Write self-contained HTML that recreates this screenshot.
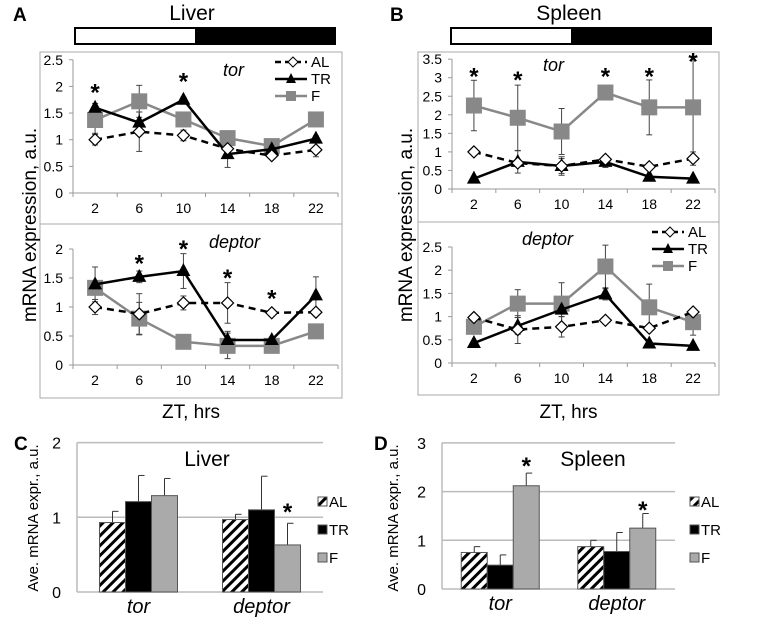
<!DOCTYPE html>
<html><head><meta charset="utf-8"><style>
body{margin:0;background:#fff;}
svg{display:block;font-family:"Liberation Sans",Arial,sans-serif;}
</style></head><body>
<svg id="fig" width="770" height="618" viewBox="0 0 770 618" xmlns="http://www.w3.org/2000/svg">
<defs>
<pattern id="hatch" patternUnits="userSpaceOnUse" width="7" height="7" patternTransform="rotate(45)">
<rect width="7" height="7" fill="#fff"/><rect width="3" height="7" fill="#000"/></pattern>
</defs>
<g id="root"></g>
</svg>
<script>
const zt = ["2","6","10","14","18","22"];
const groups = ["AL","TR","F"];
// Panel A tor
const aTorAL=[1.0,1.15,1.08,0.83,0.70,0.81], aTorALe=[0.1,0.37,0.1,0.05,0.05,0.13];
const aTorTR=[1.6,1.32,1.75,0.73,0.82,1.02], aTorTRe=[0.08,0.2,0.05,0.25,0.05,0.05];
const aTorF=[1.37,1.72,1.38,1.03,0.88,1.38], aTorFe=[0.25,0.3,0.1,0.05,0.05,0.05];
const aTorStars=[2.0,null,2.2,null,null,null];
const aTorTicks=[0,0.5,1,1.5,2,2.5];
// Panel A deptor
const aDepAL=[1.0,0.88,1.07,1.07,0.9,0.91], aDepALe=[0.13,0.35,0.12,0.35,0.05,0.05];
const aDepTR=[1.39,1.52,1.62,0.43,0.43,1.2], aDepTRe=[0.3,0.1,0.3,0.15,0.05,0.32];
const aDepF=[1.33,0.8,0.4,0.33,0.33,0.58], aDepFe=[0.05,0.28,0.03,0.22,0.03,0.03];
const aDepStars=[null,1.85,2.1,1.6,1.25,null];
const aDepTicks=[0,0.5,1,1.5,2];
// Panel B tor
const bTorAL=[1.0,0.7,0.62,0.8,0.6,0.82], bTorALe=[0.03,0.1,0.2,0.1,0.05,0.18];
const bTorTR=[0.28,0.73,0.62,0.73,0.33,0.28], bTorTRe=[0.03,0.3,0.25,0.15,0.03,0.03];
const bTorF=[2.25,1.92,1.55,2.6,2.2,2.2], bTorFe=[0.68,0.88,0.62,0.03,0.74,1.38];
const bTorStars=[3.2,3.1,null,3.2,3.2,3.6];
const bTorTicks=[0,0.5,1,1.5,2,2.5,3,3.5];
// Panel B deptor
const bDepAL=[0.98,0.72,0.78,0.92,0.75,1.1], bDepALe=[0.03,0.3,0.22,0.03,0.05,0.05];
const bDepTR=[0.43,0.8,1.15,1.48,0.42,0.37], bDepTRe=[0.03,0.18,0.15,0.12,0.03,0.03];
const bDepF=[0.78,1.28,1.28,2.08,1.2,0.88], bDepFe=[0.03,0.3,0.45,0.46,0.5,0.28];
const bDepTicks=[0,0.5,1,1.5,2,2.5];
// Panels C/D bars
const genes=["tor","deptor"];
const cAL=[0.93,0.97], cALe=[1.08,1.04];
const cTR=[1.21,1.10], cTRe=[1.56,1.55];
const cF=[1.29,0.63], cFe=[1.52,0.92];
const cStars=[[null,null,null],[null,null,1.15]];
const cTicks=[0,1,2];
const dAL=[0.75,0.87], dALe=[0.87,1.00];
const dTR=[0.49,0.77], dTRe=[0.70,1.16];
const dF=[2.12,1.25], dFe=[2.38,1.55];
const dStars=[[null,null,2.65],[null,null,1.75]];
const dTicks=[0,1,2,3];

const NS="http://www.w3.org/2000/svg";
const root=document.getElementById('root');
function el(tag,attrs,parent,text){const e=document.createElementNS(NS,tag);for(const k in attrs)e.setAttribute(k,attrs[k]);if(text!==undefined)e.textContent=text;(parent||root).appendChild(e);return e;}

function linePanel(o){
  const g=el('g',{});
  
  
  const x0=o.x0,x1=o.x1,n=zt.length,cw=(x1-x0)/n;
  const X=i=>x0+cw*(i+0.5);
  const Y=v=>o.y0-v*o.k;
  const top=Y(o.ticks[o.ticks.length-1]);
  el('line',{x1:x0,y1:o.y0,x2:x0,y2:top,stroke:'#999'},g);
  el('line',{x1:x0,y1:o.y0,x2:x1,y2:o.y0,stroke:'#999'},g);
  o.ticks.forEach(t=>{el('line',{x1:x0-4,y1:Y(t),x2:x0,y2:Y(t),stroke:'#999'},g);
    const tl=el('text',{x:x0-10,y:Y(t)+5,'text-anchor':'end','font-size':14},g,String(t));
    });
  for(let i=0;i<=n;i++)el('line',{x1:x0+cw*i,y1:o.y0,x2:x0+cw*i,y2:o.y0+4,stroke:'#999'},g);
  zt.forEach((c,i)=>{const tl=el('text',{x:X(i),y:o.y0+20,'text-anchor':'middle','font-size':14},g,c);
    });
  const series=[
    {v:o.F,e:o.Fe,col:'#888',dash:null,m:'sq',nm:'f'},
    {v:o.TR,e:o.TRe,col:'#000',dash:null,m:'tri',nm:'tr'},
    {v:o.AL,e:o.ALe,col:'#000',dash:'7,5',m:'dia',nm:'al'}];
  series.forEach(s=>{
    s.v.forEach((v,i)=>{el('line',{x1:X(i),y1:Y(v-s.e[i]),x2:X(i),y2:Y(v+s.e[i]),stroke:'#444','stroke-width':1},g);
      [v-s.e[i],v+s.e[i]].forEach(w=>el('line',{x1:X(i)-3,y1:Y(w),x2:X(i)+3,y2:Y(w),stroke:'#444'},g));});
  });
  series.forEach(s=>{
    const p=el('polyline',{points:s.v.map((v,i)=>X(i)+','+Y(v)).join(' '),fill:'none',stroke:s.col,'stroke-width':2.5},g);
    if(s.dash)p.setAttribute('stroke-dasharray',s.dash);
    
    s.v.forEach((v,i)=>{const m=marker(s.m,X(i),Y(v),g);});
  });
  if(o.stars)o.stars.forEach((s,i)=>{if(s!==null){const t=el('text',{x:X(i),y:Y(s)+14,'text-anchor':'middle','font-size':24,'font-weight':'bold'},g,'*');}});
  const gl=el('text',{x:o.gx,y:o.gy,'font-size':18,'font-style':'italic'},g,o.gene);
  
  if(o.lx){legend(o.lx,o.ly,g);}
}
function marker(t,x,y,g){
  if(t==='sq')return el('rect',{x:x-8,y:y-8,width:16,height:16,fill:'#888'},g);
  if(t==='tri')return el('polygon',{points:`${x},${y-8} ${x+7},${y+5} ${x-7},${y+5}`,fill:'#000'},g);
  return el('polygon',{points:`${x},${y-6} ${x+6},${y} ${x},${y+6} ${x-6},${y}`,fill:'#fff',stroke:'#000','stroke-width':1.2},g);
}
function legend(x,y,g){
  const items=[['AL','#000','6,4','dia'],['TR','#000',null,'tri'],['F','#888',null,'sq']];
  items.forEach((it,i)=>{const lg=el('g',{},g);
    const yy=y+i*17;const l=el('line',{x1:x,y1:yy,x2:x+32,y2:yy,stroke:it[1],'stroke-width':2.5},lg);if(it[2])l.setAttribute('stroke-dasharray',it[2]);
    if(it[3]==='dia')el('polygon',{points:`${x+18},${yy-5} ${x+23},${yy} ${x+18},${yy+5} ${x+13},${yy}`,fill:'#fff',stroke:'#000'},lg);
    if(it[3]==='tri')el('polygon',{points:`${x+16},${yy-6} ${x+21},${yy+4} ${x+11},${yy+4}`,fill:'#000'},lg);
    if(it[3]==='sq')el('rect',{x:x+11,y:yy-5,width:10,height:10,fill:'#888'},lg);
    el('text',{x:x+36,y:yy+5,'font-size':15},lg,it[0]);});
}
function barPanel(o){
  const g=el('g',{});
  
  
  const x0=o.x0,x1=o.x1,cw=(x1-x0)/genes.length,bw=o.bw;
  const Y=v=>o.y0-v*o.k;
  o.ticks.forEach(t=>{el('line',{x1:x0,y1:Y(t),x2:x1,y2:Y(t),stroke:'#bbb','stroke-width':1.5},g);
    const tl=el('text',{x:x0-16,y:Y(t)+6,'text-anchor':'end','font-size':16},g,String(t));});
  el('line',{x1:x0,y1:Y(0),x2:x0,y2:Y(o.ticks[o.ticks.length-1]),stroke:'#bbb','stroke-width':1.5},g);
  const ser=[[o.AL,o.ALe,'url(#hatch)'],[o.TR,o.TRe,'#000'],[o.F,o.Fe,'#aaa']];
  genes.forEach((gn,gi)=>{const cx=x0+cw*(gi+0.5);
    ser.forEach((s,si)=>{const bx=cx+(si-1.5)*bw;const v=s[0][gi];
      el('line',{x1:bx+bw/2,y1:Y(v),x2:bx+bw/2,y2:Y(s[1][gi]),stroke:'#333'},g);
      el('line',{x1:bx+bw/2,y1:Y(s[1][gi]),x2:bx+bw/2+6,y2:Y(s[1][gi]),stroke:'#333'},g);
      const r=el('rect',{x:bx,y:Y(v),width:bw,height:v*o.k,fill:s[2],stroke:'#555','stroke-width':1},g);
      
      const st=o.stars[gi][si];if(st!==null){const t=el('text',{x:bx+bw/2,y:Y(st)+14,'text-anchor':'middle','font-size':24,'font-weight':'bold'},g,'*');}
    });
    const gl=el('text',{x:cx,y:o.y0+21,'text-anchor':'middle','font-size':20,'font-style':'italic'},g,gn);
  });
  const items=[['AL','url(#hatch)'],['TR','#000'],['F','#aaa']];
  items.forEach((it,i)=>{const lg=el('g',{},g);
    const yy=o.ly+i*28;el('rect',{x:o.lx,y:yy-5,width:9,height:9,fill:it[1],stroke:'#555'},lg);el('text',{x:o.lx+11,y:yy+5,'font-size':15},lg,it[0]);});
  const t=el('text',{x:o.tx,y:o.ty,'text-anchor':'middle','font-size':21},g,o.title);
  const yl=el('text',{transform:`translate(${o.ylx},${o.yly}) rotate(-90)`,'text-anchor':'middle','font-size':15},g,'Ave. mRNA expr., a.u.');
}

function frame(name,x,y,w,h,sep,label,lx,title,tx,barX,barW,whiteW,ylx){
  const g=el('g',{});
  el('rect',{x:x,y:y,width:w,height:h,fill:'none',stroke:'#aaa'},g);
  el('line',{x1:x,y1:sep,x2:x+w,y2:sep,stroke:'#aaa'},g);
  el('text',{x:lx,y:21,'font-size':19,'font-weight':'bold'},g,label);
  el('text',{x:tx,y:20,'text-anchor':'middle','font-size':21},g,title);
  const lb=el('g',{},g);
  el('rect',{x:barX,y:27,width:barW,height:18,fill:'#000'},lb);
  el('rect',{x:barX+2,y:29,width:whiteW,height:14,fill:'#fff'},lb);
  const yl=el('text',{transform:`translate(${ylx},225) rotate(-90)`,'text-anchor':'middle','font-size':19},g,'mRNA expression, a.u.');
  const xl=el('text',{x:x+w/2,y:418,'text-anchor':'middle','font-size':19},g,'ZT, hrs');
}
frame('panel-a-frame',40,52,302,346,224,'A',13,'Liver',192,74,262,119,36);
frame('panel-b-frame',418,52,301,343,222,'B',390,'Spleen',569,450,262,119,412);

linePanel({name:'panel-a-tor',x0:73,x1:338,y0:193,k:53.3,ticks:aTorTicks,AL:aTorAL,ALe:aTorALe,TR:aTorTR,TRe:aTorTRe,F:aTorF,Fe:aTorFe,stars:aTorStars,gene:'tor',gx:223,gy:76,lx:275,ly:62});
linePanel({name:'panel-a-deptor',x0:73,x1:338,y0:365,k:58,ticks:aDepTicks,AL:aDepAL,ALe:aDepALe,TR:aDepTR,TRe:aDepTRe,F:aDepF,Fe:aDepFe,stars:aDepStars,gene:'deptor',gx:209,gy:248});
linePanel({name:'panel-b-tor',x0:452,x1:715,y0:189,k:37.1,ticks:bTorTicks,AL:bTorAL,ALe:bTorALe,TR:bTorTR,TRe:bTorTRe,F:bTorF,Fe:bTorFe,stars:bTorStars,gene:'tor',gx:543,gy:71});
linePanel({name:'panel-b-deptor',x0:452,x1:715,y0:363,k:46.4,ticks:bDepTicks,AL:bDepAL,ALe:bDepALe,TR:bDepTR,TRe:bDepTRe,F:bDepF,Fe:bDepFe,stars:null,gene:'deptor',gx:522,gy:245,lx:652,ly:232});

el('text',{x:14,y:450,'font-size':19,'font-weight':'bold'},root,'C');
el('text',{x:374,y:450,'font-size':19,'font-weight':'bold'},root,'D');
barPanel({name:'panel-c-liver',x0:77,x1:323,y0:592,k:74.7,bw:26,ticks:cTicks,AL:cAL,ALe:cALe,TR:cTR,TRe:cTRe,F:cF,Fe:cFe,stars:cStars,lx:318,ly:502,title:'Liver',tx:207,ty:466,ylx:38,yly:518});
barPanel({name:'panel-d-spleen',x0:442,x1:675,y0:589,k:48.7,bw:26,ticks:dTicks,AL:dAL,ALe:dALe,TR:dTR,TRe:dTRe,F:dF,Fe:dFe,stars:dStars,lx:690,ly:502,title:'Spleen',tx:593,ty:466,ylx:398,yly:518});
</script>
</body></html>
